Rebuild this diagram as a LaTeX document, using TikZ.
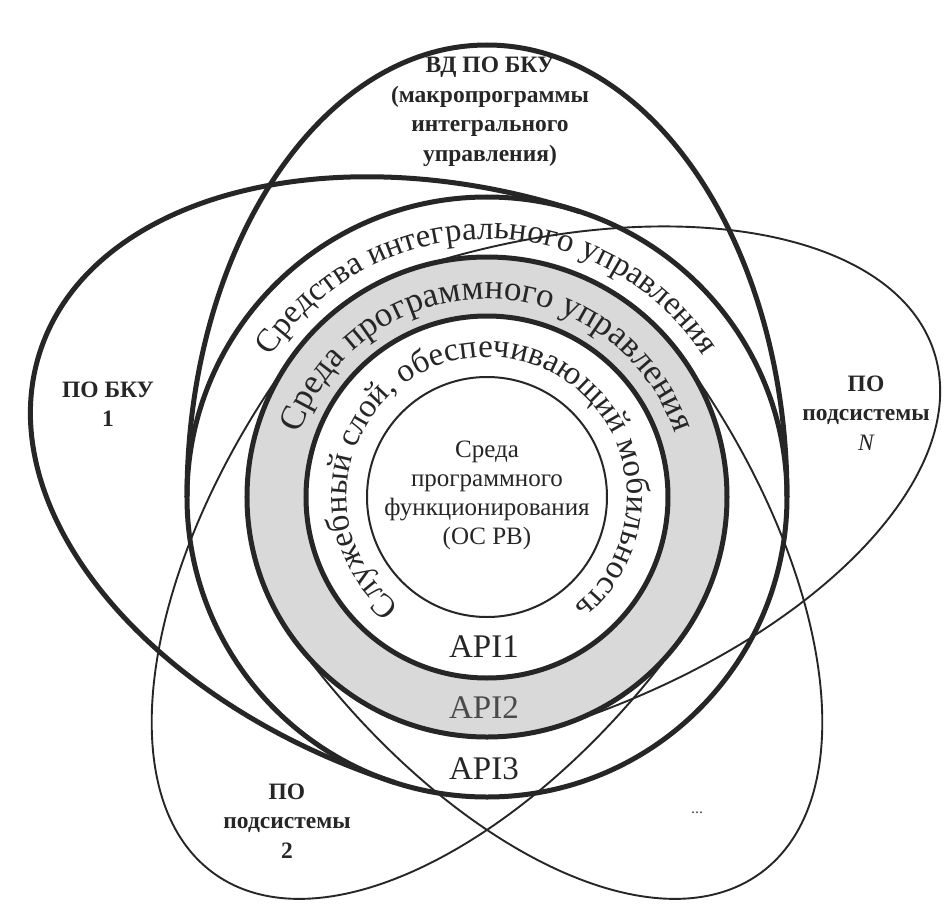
\documentclass[tikz,border=0pt]{standalone}
\usepackage{fontspec}
\setmainfont{Liberation Serif}
\usetikzlibrary{decorations.text}

\definecolor{ink}{HTML}{262626}
\definecolor{ringgray}{HTML}{D9D9D9}
\definecolor{apigray}{HTML}{4A4A4A}

\tikzset{
  heavy/.style={draw=ink, line width=5pt},
  light/.style={draw=ink, line width=1.9pt},
  thinring/.style={draw=ink, line width=2pt},
  petal label/.style={font=\fontsize{23.5}{29.5}\selectfont\bfseries, align=center, text=ink, inner sep=0pt},
  core label/.style={font=\fontsize{25}{29}\selectfont, align=center, text=ink, inner sep=0pt},
  api/.style={font=\fontsize{33}{36}\selectfont, text=ink, inner sep=0pt},
  ring text/.style={decorate, decoration={text along path, text align=center, text color=ink}},
}

\begin{document}
\begin{tikzpicture}[x=1pt,y=1pt]
\useasboundingbox[fill=white] (-487,-406) rectangle (458,497);
\coordinate (O) at (0,0);

% petals: outer halves of ellipses centred on O, closed by the rings
\draw[heavy, rotate=90]  (0,-300) arc[start angle=-90, end angle=90, x radius=452, y radius=300];
\draw[heavy, rotate=162] (0,-300) arc[start angle=-90, end angle=90, x radius=470, y radius=300];
\draw[light, rotate=18]  (0,-240) arc[start angle=-90, end angle=90, x radius=470, y radius=240];
\draw[light, rotate=234] (0,-240) arc[start angle=-90, end angle=90, x radius=465, y radius=240];
\draw[light, rotate=306] (0,-240) arc[start angle=-90, end angle=90, x radius=465, y radius=240];

% concentric rings
\draw[heavy] (O) circle[radius=300];
\draw[heavy, fill=ringgray] (O) circle[radius=240];
\draw[heavy, fill=white] (O) circle[radius=181];
\draw[thinring] (O) circle[radius=120];

% curved ring captions
\path[ring text, decoration={text={|\fontsize{33}{36}\selectfont|Средства интегрального управления}}]
  (180:258) arc[start angle=180, end angle=0, radius=258];
\path[ring text, decoration={text={|\fontsize{35}{38}\selectfont|Среда программного управления}}]
  (180:198) arc[start angle=180, end angle=0, radius=198];
\path[ring text, decoration={text={|\fontsize{33}{36}\selectfont|Служебный слой{,} обеспечивающий мобильность}}]
  (270:140) arc[start angle=270, end angle=-90, radius=140];

% core
\node[core label] (core) at (0,2) {Среда\\программного\\функционирования\\(ОС РВ)};

% interfaces
\node[api] (api1) at (-3,-150) {API1};
\node[api, text=apigray] (api2) at (-3,-211) {API2};
\node[api] (api3) at (-3,-272) {API3};

% petal captions
\node[petal label] (vd) at (3,385) {ВД ПО БКУ\\(макропрограммы\\интегрального\\управления)};
\node[petal label] (bku) at (-379,93) {ПО БКУ\\1};
\node[petal label] (subN) at (379,84) {ПО\\подсистемы\\{\mdseries\itshape N}};
\node[petal label] (sub2) at (-200,-324) {ПО\\подсистемы\\2};
\node[font=\fontsize{16}{18}\selectfont, text=apigray] (more) at (210,-316) {...};
\end{tikzpicture}
\end{document}
